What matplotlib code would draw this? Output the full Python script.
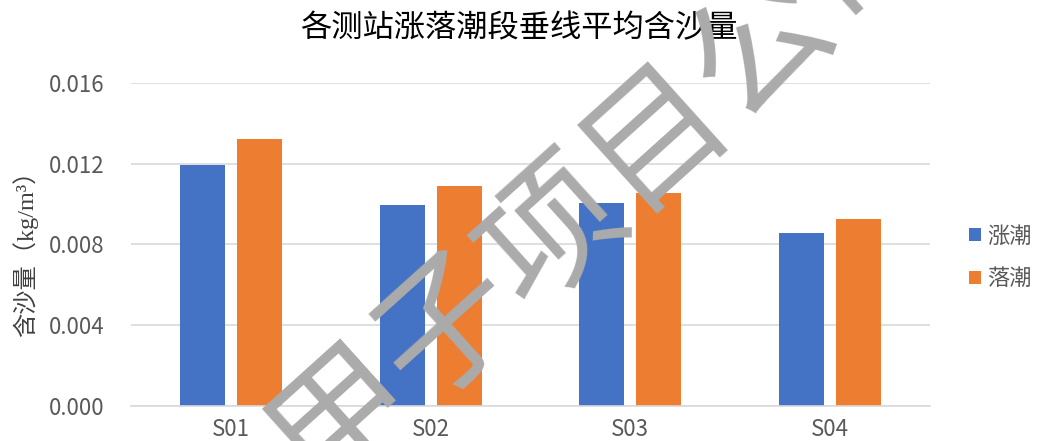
import matplotlib
matplotlib.use("Agg")
import matplotlib.pyplot as plt
import numpy as np

# Data
stations = ["S01", "S02", "S03", "S04"]
flood_tide = [0.01195, 0.00997, 0.01007, 0.00857]   # 涨潮
ebb_tide = [0.01325, 0.01092, 0.01055, 0.00927]     # 落潮
series_names = ["涨潮", "落潮"]
y_ticks = [0.000, 0.004, 0.008, 0.012, 0.016]

BLUE = "#4472C4"
ORANGE = "#ED7D31"
GRID = "#D9D9D9"
TEXT = "#595959"
CJK = ["Noto Sans CJK SC", "DejaVu Sans"]

plt.rcParams["font.family"] = CJK

fig = plt.figure(figsize=(10.37, 4.41), dpi=100)
ax = fig.add_axes([0.1263, 0.0794, 0.7705, 0.7324])

x = np.arange(len(stations))
width = 0.225
offset = 0.1425
ax.bar(x - offset, flood_tide, width, color=BLUE, label=series_names[0], zorder=3)
ax.bar(x + offset, ebb_tide, width, color=ORANGE, label=series_names[1], zorder=3)

ax.set_xlim(-0.5, len(stations) - 0.5)
ax.set_ylim(0, 0.016)
ax.set_yticks(y_ticks)
ax.set_yticklabels([f"{v:.3f}" for v in y_ticks])
ax.set_xticks(x)
ax.set_xticklabels(stations)

ax.grid(axis="y", color=GRID, linewidth=1.2, zorder=0)
ax.set_axisbelow(True)
for side in ["top", "right", "left"]:
    ax.spines[side].set_visible(False)
ax.spines["bottom"].set_color(GRID)
ax.spines["bottom"].set_linewidth(1.2)
ax.spines["bottom"].set_zorder(4)

ax.tick_params(axis="y", length=0, pad=19, labelsize=16, labelcolor=TEXT)
ax.tick_params(axis="x", length=0, pad=9, labelsize=16, labelcolor=TEXT)

ax.set_ylabel("含沙量（kg/m³）", fontsize=17.5, color="#404040",
              family=["Liberation Serif", "Noto Sans CJK SC"])
ax.yaxis.set_label_coords(-0.116, 0.489)

fig.text(0.5, 0.935, "各测站涨落潮段垂线平均含沙量", ha="center", va="center",
         fontsize=22.5, color="#000000")

leg = ax.legend(loc="center left", bbox_to_anchor=(1.049, 0.46), frameon=False,
                fontsize=16, handlelength=0.55, handleheight=0.55,
                handletextpad=0.25, labelspacing=0.9, labelcolor=TEXT,
                borderaxespad=0, borderpad=0)

# Watermark across the chart
fig.text(0.582, 0.592, "甲子项目公司", ha="center", va="center",
         rotation=42, rotation_mode="anchor", fontsize=101,
         color="#ABABAB", zorder=10)

fig.savefig("out.png", dpi=100)
